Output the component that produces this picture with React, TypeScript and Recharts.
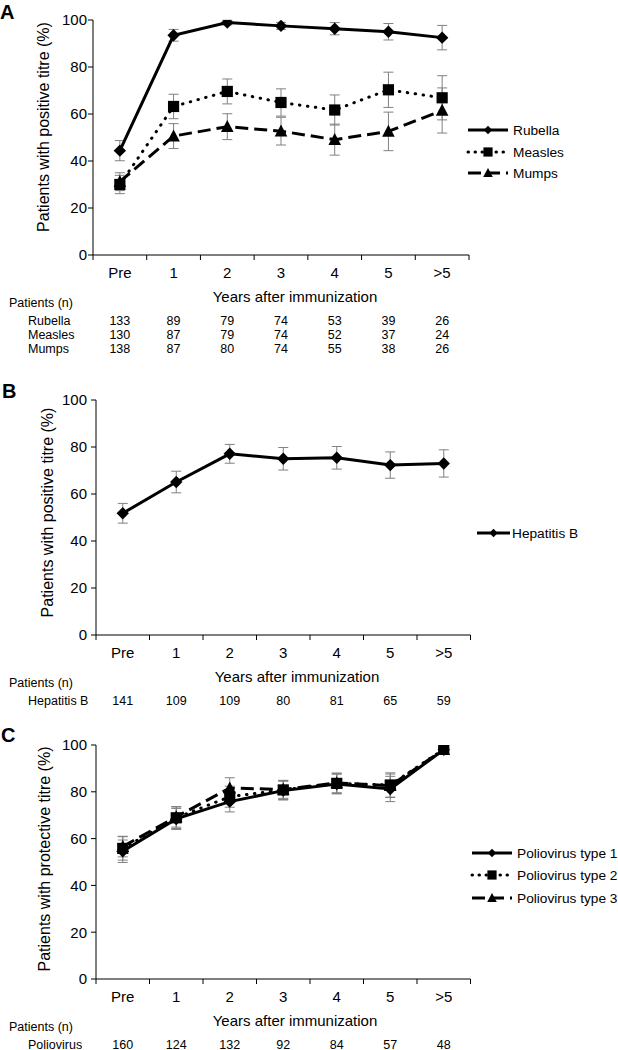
import React from 'react';
import { LineChart, Line, XAxis, YAxis, ErrorBar, Legend } from 'recharts';

const FONT = "'Liberation Sans', Arial, Helvetica, sans-serif";

// ---------- data ----------
const categories = ['Pre', '1', '2', '3', '4', '5', '>5'];
const yTicks = [0, 20, 40, 60, 80, 100];

// Panel A
const rubella = [44.4, 93.5, 98.9, 97.5, 96.3, 95.0, 92.5];
const rubellaErr = [4.3, 2.5, 1.0, 1.5, 2.6, 3.5, 5.2];
const measles = [30.0, 63.2, 69.6, 64.9, 61.7, 70.3, 66.9];
const measlesErr = [3.9, 5.2, 5.3, 5.8, 6.4, 7.5, 9.4];
const mumps = [31.2, 50.6, 54.6, 52.7, 49.1, 52.6, 61.5];
const mumpsErr = [3.8, 5.3, 5.5, 5.9, 6.6, 8.2, 9.6];
const nRubella = [133, 89, 79, 74, 53, 39, 26];
const nMeasles = [130, 87, 79, 74, 52, 37, 24];
const nMumps = [138, 87, 80, 74, 55, 38, 26];

// Panel B
const hepB = [51.8, 65.1, 77.1, 75.0, 75.4, 72.3, 73.0];
const hepBErr = [4.2, 4.6, 4.0, 4.8, 4.8, 5.6, 5.8];
const nHepB = [141, 109, 109, 80, 81, 65, 59];

// Panel C
const polio1 = [54.6, 68.4, 75.8, 80.5, 83.3, 81.2, 98.0];
const polio1Err = [4.8, 4.5, 4.4, 4.0, 4.2, 5.4, 1.0];
const polio2 = [55.8, 68.9, 77.9, 80.8, 83.6, 82.9, 98.2];
const polio2Err = [5.0, 4.6, 4.5, 4.1, 4.3, 5.2, 1.0];
const polio3 = [56.6, 69.3, 81.6, 81.0, 83.8, 82.6, 98.0];
const polio3Err = [4.4, 4.4, 4.4, 3.8, 4.2, 5.0, 1.0];
const nPolio = [160, 124, 132, 92, 84, 57, 48];

const dataA = categories.map((c, i) => ({
  idx: i, cat: c,
  rubella: rubella[i], rubellaErr: rubellaErr[i],
  measles: measles[i], measlesErr: measlesErr[i],
  mumps: mumps[i], mumpsErr: mumpsErr[i],
}));
const dataB = categories.map((c, i) => ({ idx: i, cat: c, hepB: hepB[i], hepBErr: hepBErr[i] }));
const dataC = categories.map((c, i) => ({
  idx: i, cat: c,
  polio1: polio1[i], polio1Err: polio1Err[i],
  polio2: polio2[i], polio2Err: polio2Err[i],
  polio3: polio3[i], polio3Err: polio3Err[i],
}));

const idxTicks = categories.map((_, i) => i);
const mainTicks = [...categories.flatMap((_, i) => [i - 0.5, i]), categories.length - 0.5];
const xDomain = [-0.5, categories.length - 0.5];

// ---------- styles ----------
type Kind = 'diamond' | 'square' | 'triangle';
type LineStyle = 'solid' | 'dotted' | 'dashed';

const DASH: Record<LineStyle, string | undefined> = { solid: undefined, dotted: '0.5 7.5', dashed: '13 6' };
const CAP: Record<LineStyle, 'butt' | 'round'> = { solid: 'butt', dotted: 'round', dashed: 'butt' };

const Mark = ({ kind, cx, cy, s }: { kind: Kind; cx: number; cy: number; s: number }) => {
  if (cx == null || cy == null) return null;
  if (kind === 'diamond')
    return <path d={`M${cx},${cy - s}L${cx + s},${cy}L${cx},${cy + s}L${cx - s},${cy}Z`} fill="#000" />;
  if (kind === 'square')
    return <rect x={cx - s} y={cy - s} width={2 * s} height={2 * s} fill="#000" />;
  return <path d={`M${cx},${cy - s * 1.05}L${cx + s},${cy + s * 0.85}L${cx - s},${cy + s * 0.85}Z`} fill="#000" />;
};

const dotSize: Record<Kind, number> = { diamond: 6.2, square: 5.6, triangle: 6.3 };
const legendSize: Record<Kind, number> = { diamond: 4.2, square: 4.6, triangle: 4.8 };

type Series = { key: string; name: string; style: LineStyle; kind: Kind };
type Row = { label: string; values: number[] };
type LayoutCfg = {
  top: number; height: number; yAxisWidth: number; marginRight: number; marginBottom: number;
  rowHeight: number; letterX: number; letterY: number;
  yTitleX: number; yTitleY: number; xTitleX: number;
  legendX1: number; legendX2: number; legendTextX: number; legendYs: number[];
};

const MainTick = (props: any) => {
  const { x, y, payload } = props;
  const v = payload.value;
  if (!Number.isInteger(v)) {
    return <line x1={x} x2={x} y1={y} y2={y + 5} stroke="#000" strokeWidth={1} />;
  }
  return (
    <text x={x} y={y + 23.2} textAnchor="middle" fontSize={15} fill="#000" fontFamily={FONT}>
      {categories[v]}
    </text>
  );
};

const makeRowTick = (values: number[]) => (props: any) => {
  const { x, y, payload } = props;
  return (
    <text x={x} y={y + 9} textAnchor="middle" fontSize={12.5} fill="#000" fontFamily={FONT}>
      {values[payload.value]}
    </text>
  );
};

function Panel({ letter, data, series, legendOrder, rows, yTitle, L }: {
  letter: string; data: any[]; series: Series[]; legendOrder: Series[]; rows: Row[]; yTitle: string; L: LayoutCfg;
}) {
  const legendContent = () => (
    <svg width={618} height={L.height} style={{ overflow: 'visible', display: 'block' }}>
      <text x={L.letterX} y={L.letterY} fontSize={20} fontWeight="bold" fontFamily={FONT} fill="#000">{letter}</text>
      {legendOrder.map((s, i) => {
        const y = L.legendYs[i];
        const mid = (L.legendX1 + L.legendX2) / 2;
        return (
          <g key={s.key}>
            <line x1={L.legendX1} x2={L.legendX2} y1={y} y2={y} stroke="#000" strokeWidth={3}
              strokeDasharray={s.style === 'dotted' ? '0.5 6.5' : s.style === 'dashed' ? '13 6' : undefined}
              strokeLinecap={CAP[s.style]} />
            <Mark kind={s.kind} cx={mid} cy={y} s={legendSize[s.kind]} />
            <text x={L.legendTextX} y={y + 4.9} fontSize={13.7} fontFamily={FONT} fill="#000">{s.name}</text>
          </g>
        );
      })}
    </svg>
  );

  return (
    <div style={{ position: 'absolute', left: 0, top: L.top, width: 618, height: L.height }}>
      <LineChart width={618} height={L.height} data={data}
        margin={{ top: 20, right: L.marginRight, bottom: L.marginBottom, left: 0 }}>
        <XAxis xAxisId="main" type="number" dataKey="idx" domain={xDomain} ticks={mainTicks} interval={0}
          allowDataOverflow tickSize={0} tickMargin={0} tickLine={false}
          axisLine={{ stroke: '#000', strokeWidth: 1 }} height={60.5} tick={(p: any) => <MainTick {...p} />}
          label={{
            content: (p: any) => {
              const vb = p.viewBox || { y: 0 };
              return (
                <g>
                  <text x={L.xTitleX} y={vb.y + 47} textAnchor="middle" fontSize={15} fontFamily={FONT} fill="#000">
                    Years after immunization
                  </text>
                  <text x={9} y={vb.y + 52} fontSize={12.5} fontFamily={FONT} fill="#000">Patients (n)</text>
                </g>
              );
            },
          }} />
        {rows.map((r, k) => (
          <XAxis key={r.label} xAxisId={`n${k}`} type="number" dataKey="idx" domain={xDomain} ticks={idxTicks}
            interval={0} allowDataOverflow tickSize={0} tickMargin={0} tickLine={false} axisLine={false}
            height={L.rowHeight} tick={makeRowTick(r.values)}
            label={{
              content: (p: any) => {
                const vb = p.viewBox || { y: 0 };
                return <text x={28} y={vb.y + 9} fontSize={12.5} fontFamily={FONT} fill="#000">{r.label}</text>;
              },
            }} />
        ))}
        <YAxis type="number" domain={[0, 100]} ticks={yTicks} interval={0} allowDataOverflow width={L.yAxisWidth}
          tickSize={5} tickMargin={L.yAxisWidth - 92}
          axisLine={{ stroke: '#000', strokeWidth: 1 }} tickLine={{ stroke: '#000', strokeWidth: 1 }}
          tick={{ fontSize: 15, fill: '#000', fontFamily: FONT }}
          label={{
            content: () => (
              <text x={L.yTitleX} y={L.yTitleY} transform={`rotate(-90 ${L.yTitleX} ${L.yTitleY})`}
                textAnchor="middle" dominantBaseline="central" fontSize={16} fontFamily={FONT} fill="#000">
                {yTitle}
              </text>
            ),
          }} />
        {series.map((s) => (
          <Line key={s.key} xAxisId="main" type="linear" dataKey={s.key} name={s.name} stroke="#000"
            strokeWidth={3} strokeDasharray={DASH[s.style]} strokeLinecap={CAP[s.style]}
            isAnimationActive={false} activeDot={false}
            dot={(p: any) => <Mark key={`${s.key}-${p.index}`} kind={s.kind} cx={p.cx} cy={p.cy} s={dotSize[s.kind]} />}>
            <ErrorBar dataKey={`${s.key}Err`} direction="y" width={5} stroke="#808080" strokeWidth={1} />
          </Line>
        ))}
        <Legend layout="vertical" align="center" verticalAlign="middle" content={legendContent}
          wrapperStyle={{ left: 0, top: 0, width: 618, height: L.height, pointerEvents: 'none' }} />
      </LineChart>
    </div>
  );
}

const sRubella: Series = { key: 'rubella', name: 'Rubella', style: 'solid', kind: 'diamond' };
const sMeasles: Series = { key: 'measles', name: 'Measles', style: 'dotted', kind: 'square' };
const sMumps: Series = { key: 'mumps', name: 'Mumps', style: 'dashed', kind: 'triangle' };
const sHepB: Series = { key: 'hepB', name: 'Hepatitis B', style: 'solid', kind: 'diamond' };
const sP1: Series = { key: 'polio1', name: 'Poliovirus type 1', style: 'solid', kind: 'diamond' };
const sP2: Series = { key: 'polio2', name: 'Poliovirus type 2', style: 'dotted', kind: 'square' };
const sP3: Series = { key: 'polio3', name: 'Poliovirus type 3', style: 'dashed', kind: 'triangle' };

const layoutA: LayoutCfg = {
  top: 0, height: 370, yAxisWidth: 93, marginRight: 149, marginBottom: 12.5, rowHeight: 14,
  letterX: 0, letterY: 19, yTitleX: 43.5, yTitleY: 127, xTitleX: 295,
  legendX1: 468, legendX2: 508, legendTextX: 513, legendYs: [130, 152, 173],
};
const layoutB: LayoutCfg = {
  top: 380, height: 340, yAxisWidth: 96, marginRight: 147.5, marginBottom: 10.5, rowHeight: 14,
  letterX: 2, letterY: 18, yTitleX: 47, yTitleY: 132.5, xTitleX: 297,
  legendX1: 477, legendX2: 510, legendTextX: 512, legendYs: [153],
};
const layoutC: LayoutCfg = {
  top: 725, height: 325, yAxisWidth: 96, marginRight: 147.5, marginBottom: 0.5, rowHeight: 10,
  letterX: 1, letterY: 17, yTitleX: 44, yTitleY: 134, xTitleX: 295,
  legendX1: 472, legendX2: 512, legendTextX: 517, legendYs: [128, 150, 173],
};

export default function App() {
  return (
    <div style={{ position: 'absolute', left: 0, top: 0, width: 618, height: 1050, overflow: 'hidden', background: '#fff' }}>
      <Panel letter="A" data={dataA} series={[sMumps, sMeasles, sRubella]} legendOrder={[sRubella, sMeasles, sMumps]}
        rows={[{ label: 'Rubella', values: nRubella }, { label: 'Measles', values: nMeasles }, { label: 'Mumps', values: nMumps }]}
        yTitle="Patients with positive titre (%)" L={layoutA} />
      <Panel letter="B" data={dataB} series={[sHepB]} legendOrder={[sHepB]}
        rows={[{ label: 'Hepatitis B', values: nHepB }]}
        yTitle="Patients with positive titre (%)" L={layoutB} />
      <Panel letter="C" data={dataC} series={[sP3, sP1, sP2]} legendOrder={[sP1, sP2, sP3]}
        rows={[{ label: 'Poliovirus', values: nPolio }]}
        yTitle="Patients with protective titre (%)" L={layoutC} />
    </div>
  );
}
